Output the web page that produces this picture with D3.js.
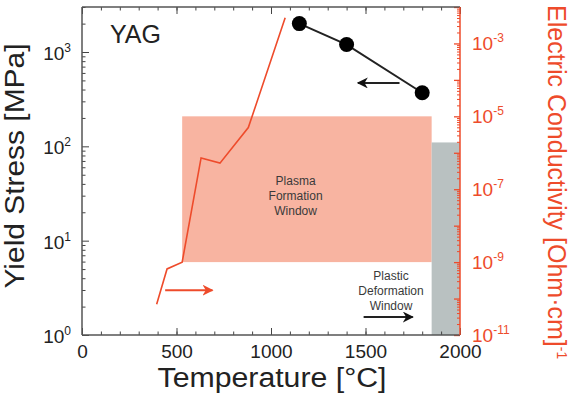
<!DOCTYPE html>
<html><head><meta charset="utf-8">
<script src="https://cdn.jsdelivr.net/npm/d3@7"></script>
<style>
html,body{margin:0;padding:0;background:#fff;}
text{font-family:"Liberation Sans",Arial,sans-serif;}
</style></head>
<body>
<svg id="c" width="574" height="416"></svg>
<script>
// ---- data ----
const yieldTemp = [1150, 1400, 1800];
const yieldStress = [2000, 1200, 370];
const condTemp = [395, 450, 530, 630, 730, 880, 1075];
const condValue = [7e-11, 6.5e-10, 1e-9, 7.2e-7, 5.2e-7, 4.9e-6, 5.1e-3];
const plasmaTemp = [530, 1850];
const plasmaCond = [1e-9, 1e-5];
const plasticTemp = [1850, 2000];
const plasticStress = [1, 110];
const xMajor = [0, 500, 1000, 1500, 2000];
const leftExp = [0, 1, 2, 3];
const rightExp = [-11, -9, -7, -5, -3];
const redArrowTemp = [440, 690], redArrowCond = 1.7e-10;
const blackArrowTemp = [1680, 1460], blackArrowStress = 470;
const plasticArrowTemp = [1490, 1750], plasticArrowStress = 1.55;

const RED = "#ee4b2b";
const svg = d3.select("#c");
const x = d3.scaleLinear().domain([0, 2000]).range([82, 460]);
const yL = d3.scaleLog().domain([1, 3000]).range([335, 7]);
const yR = d3.scaleLog().domain([1e-11, 1e-2]).range([335, 7]);

const defs = svg.append("defs");
function marker(id, color){
  defs.append("marker").attr("id", id).attr("viewBox", "0 0 10 10")
    .attr("refX", 9).attr("refY", 5).attr("markerWidth", 5.5).attr("markerHeight", 5.5)
    .attr("markerUnits","strokeWidth").attr("orient", "auto")
    .append("path").attr("d", "M0,0 L10,5 L0,10 L3,5 Z").attr("fill", color);
}
marker("ah-red", RED); marker("ah-black", "#111");

// windows
svg.append("rect").attr("x", x(plasmaTemp[0])).attr("width", x(plasmaTemp[1]) - x(plasmaTemp[0]))
  .attr("y", yR(plasmaCond[1])).attr("height", yR(plasmaCond[0]) - yR(plasmaCond[1]))
  .attr("fill", "#f8b4a1");
svg.append("rect").attr("x", x(plasticTemp[0])).attr("width", x(plasticTemp[1]) - x(plasticTemp[0]))
  .attr("y", yL(plasticStress[1])).attr("height", yL(plasticStress[0]) - yL(plasticStress[1]))
  .attr("fill", "#b9c1c1");

// window texts
const tcol = "#3a3a3a";
const pt = svg.append("text").attr("text-anchor","middle").attr("font-size", 12).attr("fill", tcol);
["Plasma","Formation","Window"].forEach((s,i)=>pt.append("tspan").attr("x", x(1130)).attr("y", 185 + i*15).text(s));
const dt = svg.append("text").attr("text-anchor","middle").attr("font-size", 12).attr("fill", tcol);
["Plastic","Deformation","Window"].forEach((s,i)=>dt.append("tspan").attr("x", x(1635)).attr("y", 280 + i*15).text(s));

// axes frame
const g = svg.append("g");
g.append("g").attr("transform","translate(0,335)")
  .call(d3.axisBottom(x).tickValues(d3.range(0, 2001, 100)).tickSize(-3.5).tickFormat(""))
  .call(s=>{s.select(".domain").remove(); s.selectAll("line").attr("stroke","#444");});
g.append("g").attr("transform","translate(0,335)")
  .call(d3.axisBottom(x).tickValues(xMajor).tickSize(-7).tickPadding(10).tickFormat(d3.format("d")))
  .call(s=>{s.select(".domain").remove(); s.selectAll("line").attr("stroke","#444");
    s.selectAll("text").attr("font-size", 19).attr("fill","#222").attr("font-family","Liberation Sans, Arial, sans-serif");});
g.append("g").attr("transform","translate(0,7)")
  .call(d3.axisTop(x).tickValues(d3.range(0, 2001, 100)).tickSize(-3.5).tickFormat(""))
  .call(s=>{s.select(".domain").remove(); s.selectAll("line").attr("stroke","#444");});
g.append("g").attr("transform","translate(0,7)")
  .call(d3.axisTop(x).tickValues(xMajor).tickSize(-7).tickFormat(""))
  .call(s=>{s.select(".domain").remove(); s.selectAll("line").attr("stroke","#444");});

// left ticks
const leftMinor = [];
for (let e = 0; e < 4; e++) for (let m = 2; m <= 9; m++) { const v = m * Math.pow(10, e); if (v <= 3000) leftMinor.push(v); }
g.append("g").attr("transform","translate(82,0)")
  .call(d3.axisLeft(yL).tickValues(leftMinor).tickSize(-3.5).tickFormat(""))
  .call(s=>{s.select(".domain").remove(); s.selectAll("line").attr("stroke","#444");});
g.append("g").attr("transform","translate(82,0)")
  .call(d3.axisLeft(yL).tickValues(leftExp.map(e=>Math.pow(10,e))).tickSize(-7).tickFormat(""))
  .call(s=>{s.select(".domain").remove(); s.selectAll("line").attr("stroke","#444");});
leftExp.forEach(e=>{
  const t = svg.append("text").attr("x", 71).attr("y", yL(Math.pow(10,e)) + 8).attr("text-anchor","end")
    .attr("font-size", 19).attr("fill","#222");
  t.append("tspan").text("10");
  t.append("tspan").attr("dy", -8).attr("font-size", 12).text(String(e));
});

// right ticks
const rightMinor = [];
for (let e = -11; e < -2; e++) for (let m = 2; m <= 9; m++) rightMinor.push(m * Math.pow(10, e));
const rightMajor = d3.range(-11, -1).map(e=>Math.pow(10,e));
g.append("g").attr("transform","translate(460,0)")
  .call(d3.axisRight(yR).tickValues(rightMinor).tickSize(-3).tickFormat(""))
  .call(s=>{s.select(".domain").remove(); s.selectAll("line").attr("stroke",RED);});
g.append("g").attr("transform","translate(460,0)")
  .call(d3.axisRight(yR).tickValues(rightMajor).tickSize(-6).tickFormat(""))
  .call(s=>{s.select(".domain").remove(); s.selectAll("line").attr("stroke",RED).attr("stroke-width",1.3);});
rightExp.forEach(e=>{
  const t = svg.append("text").attr("x", 472).attr("y", yR(Math.pow(10,e)) + 7).attr("text-anchor","start")
    .attr("font-size", 19).attr("fill",RED);
  t.append("tspan").text("10");
  t.append("tspan").attr("dy", -8).attr("font-size", 12).text(String(e));
});

// axis lines
svg.append("line").attr("x1",82).attr("x2",82).attr("y1",7).attr("y2",335).attr("stroke","#555").attr("stroke-width",1.5);
svg.append("line").attr("x1",82).attr("x2",460).attr("y1",335).attr("y2",335).attr("stroke","#555").attr("stroke-width",1.5);
svg.append("line").attr("x1",82).attr("x2",460).attr("y1",7).attr("y2",7).attr("stroke","#555").attr("stroke-width",1.5);
svg.append("line").attr("x1",460).attr("x2",460).attr("y1",7).attr("y2",335).attr("stroke",RED).attr("stroke-width",1.5);

// conductivity line
const condLine = d3.line().x(d=>x(d[0])).y(d=>yR(d[1]));
svg.append("path").datum(condTemp.map((t,i)=>[t, condValue[i]])).attr("d", condLine)
  .attr("fill","none").attr("stroke", RED).attr("stroke-width", 1.6);

// yield stress line + points
const yData = yieldTemp.map((t,i)=>[t, yieldStress[i]]);
svg.append("path").datum(yData).attr("d", d3.line().x(d=>x(d[0])).y(d=>yL(d[1])))
  .attr("fill","none").attr("stroke","#222").attr("stroke-width",2);
svg.selectAll("circle.pt").data(yData).join("circle").attr("class","pt")
  .attr("cx", d=>x(d[0])).attr("cy", d=>yL(d[1])).attr("r", 7.5).attr("fill","#000");

// arrows
svg.append("line").attr("x1", x(redArrowTemp[0])).attr("x2", x(redArrowTemp[1]))
  .attr("y1", yR(redArrowCond)).attr("y2", yR(redArrowCond))
  .attr("stroke", RED).attr("stroke-width", 2).attr("marker-end","url(#ah-red)");
svg.append("line").attr("x1", x(blackArrowTemp[0])).attr("x2", x(blackArrowTemp[1]))
  .attr("y1", yL(blackArrowStress)).attr("y2", yL(blackArrowStress))
  .attr("stroke", "#222").attr("stroke-width", 2).attr("marker-end","url(#ah-black)");
svg.append("line").attr("x1", x(plasticArrowTemp[0])).attr("x2", x(plasticArrowTemp[1]))
  .attr("y1", yL(plasticArrowStress)).attr("y2", yL(plasticArrowStress))
  .attr("stroke", "#222").attr("stroke-width", 2).attr("marker-end","url(#ah-black)");

// labels
svg.append("text").attr("x", 110).attr("y", 43).attr("font-size", 25).attr("fill","#222").text("YAG");
svg.append("text").attr("x", 272).attr("y", 387).attr("text-anchor","middle").attr("font-size", 27)
  .attr("fill","#222").attr("textLength", 229).attr("lengthAdjust","spacingAndGlyphs").text("Temperature [°C]");
svg.append("text").attr("transform","translate(24,166) rotate(-90)").attr("text-anchor","middle")
  .attr("font-size", 27).attr("fill","#222").attr("textLength", 245).attr("lengthAdjust","spacingAndGlyphs")
  .text("Yield Stress [MPa]");
const rt = svg.append("text").attr("transform","translate(548,5) rotate(90)").attr("text-anchor","start")
  .attr("font-size", 25).attr("fill", RED);
rt.append("tspan").text("Electric Conductivity [Ohm·cm]");
rt.append("tspan").attr("dy", -9).attr("font-size", 14).text("-1");
</script>
</body></html>
